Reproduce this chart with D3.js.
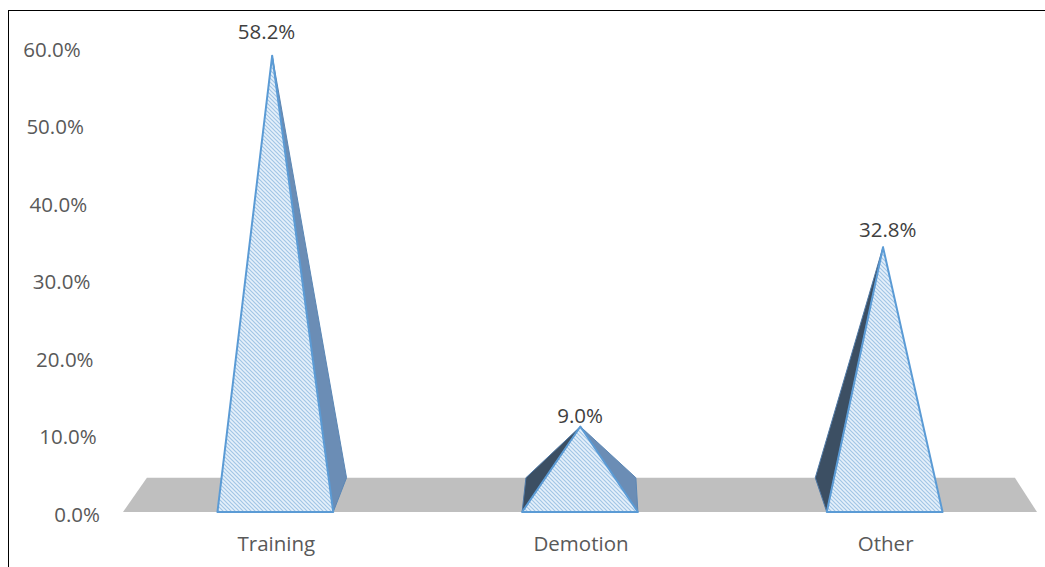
<!DOCTYPE html>
<html>
<head>
<meta charset="utf-8">
<script src="https://cdn.jsdelivr.net/npm/d3@7"></script>
<style>
  html, body { margin: 0; padding: 0; background: #fff; }
  svg { display: block; font-family: "Open Sans", "Noto Sans", sans-serif; }
</style>
</head>
<body>
<svg id="chart" width="1045" height="567"></svg>
<script>
// Share of responses per category
const categories = ["Training", "Demotion", "Other"];
const shares = [0.582, 0.090, 0.328];
const tickValues = [0, 0.1, 0.2, 0.3, 0.4, 0.5, 0.6];

const svg = d3.select("#chart");
const W = 1045, H = 567;
const FONT = "20.5px";

// Front-plane scales (depth z = 0)
const x = d3.scaleBand().domain(categories).range([123, 1037]);
const y = d3.scaleLinear().domain([0, 0.6]).range([512, 47]);

// Perspective: depth vanishes towards VP, verticals lean towards a far point below
const VP = { x: 598, y: -134 };
const depthK = 0.056;      // scale at back plane = 1 / (1 + depthK)
const VERT_VP = 12500;     // y of the vertical vanishing point
const floorY = 512;

function keystone(px, py) {
  return VP.x + (px - VP.x) * (VERT_VP - py) / (VERT_VP - floorY);
}
function project(px, v, z) {
  const s = 1 / (1 + depthK * z);
  const x1 = VP.x + (px - VP.x) * s;
  const y1 = VP.y + (y(v) - VP.y) * s;
  return [keystone(x1, y1), y1];
}
function signedArea(pts) {
  let a = 0;
  for (let i = 0; i < pts.length; i++) {
    const p = pts[i], q = pts[(i + 1) % pts.length];
    a += p[0] * q[1] - q[0] * p[1];
  }
  return a;
}
const line = d3.line();

// Hatch pattern for the pyramid fronts
const defs = svg.append("defs");
const pat = defs.append("pattern")
  .attr("id", "hatch").attr("patternUnits", "userSpaceOnUse")
  .attr("width", 4).attr("height", 4);
pat.append("rect").attr("width", 4).attr("height", 4).attr("fill", "#e6f1fb");
pat.append("path")
  .attr("d", "M-1,3 l2,2 M0,0 l4,4 M3,-1 l2,2")
  .attr("stroke", "#a3c6e6").attr("stroke-width", 1.2);

// Chart frame
svg.append("rect")
  .attr("x", 8.5).attr("y", 10.5).attr("width", W + 20).attr("height", H + 20)
  .attr("fill", "none").attr("stroke", "#000").attr("stroke-width", 1);

// Floor
const [x0, x1] = x.range();
const floorPts = [project(x0, 0, 0), project(x1, 0, 0), project(x1, 0, 1), project(x0, 0, 1)];
svg.append("path").attr("d", line(floorPts) + "Z").attr("fill", "#bfbfbf");

// Value axis labels along the slanted left edge
const axis = d3.axisLeft(y)
  .tickValues(tickValues)
  .tickFormat(d3.format(".1%"))
  .tickSize(0).tickPadding(0);
const gAxis = svg.append("g").call(axis);
gAxis.select(".domain").remove();
gAxis.selectAll(".tick")
  .attr("transform", d => `translate(${keystone(100, y(d))},${y(d) + 3})`);
gAxis.selectAll(".tick text")
  .attr("fill", "#595959")
  .style("font-size", FONT)
  .style("font-family", "'Open Sans', 'Noto Sans', sans-serif");

// Pyramids
const halfW = x.bandwidth() * 0.19;
const gP = svg.append("g");
categories.forEach((c, i) => {
  const cx = x(c) + x.bandwidth() / 2;
  const v = shares[i];
  const FL = project(cx - halfW, 0, 0), FR = project(cx + halfW, 0, 0);
  const BL = project(cx - halfW, 0, 1), BR = project(cx + halfW, 0, 1);
  const A = project(cx, v, 0.5);

  const left = [BL, FL, A], right = [FR, BR, A];
  if (signedArea(left) < 0) {
    gP.append("path").attr("d", line(left) + "Z")
      .attr("fill", "#3c4f63").attr("stroke", "#4f79a6").attr("stroke-width", 1)
      .attr("stroke-linejoin", "round");
  }
  if (signedArea(right) < 0) {
    gP.append("path").attr("d", line(right) + "Z")
      .attr("fill", "#6b8db5").attr("stroke", "#5b87b5").attr("stroke-width", 1)
      .attr("stroke-linejoin", "round");
  }
  gP.append("path").attr("d", line([FL, FR, A]) + "Z")
    .attr("fill", "url(#hatch)").attr("stroke", "#5b9bd5").attr("stroke-width", 2)
    .attr("stroke-linejoin", "round");

  // value label just above the apex, pushed outward by the perspective
  const L = project(cx, v * 1.035, 0.5);
  svg.append("text")
    .attr("x", L[0] + (L[0] - VP.x) * 0.016).attr("y", L[1] - 1)
    .attr("text-anchor", "middle")
    .attr("fill", "#404040")
    .style("font-size", FONT)
    .text(d3.format(".1%")(v));

  // category label
  svg.append("text")
    .attr("x", cx + 1).attr("y", 551)
    .attr("text-anchor", "middle")
    .attr("fill", "#595959")
    .style("font-size", FONT)
    .text(c);
});
</script>
</body>
</html>
